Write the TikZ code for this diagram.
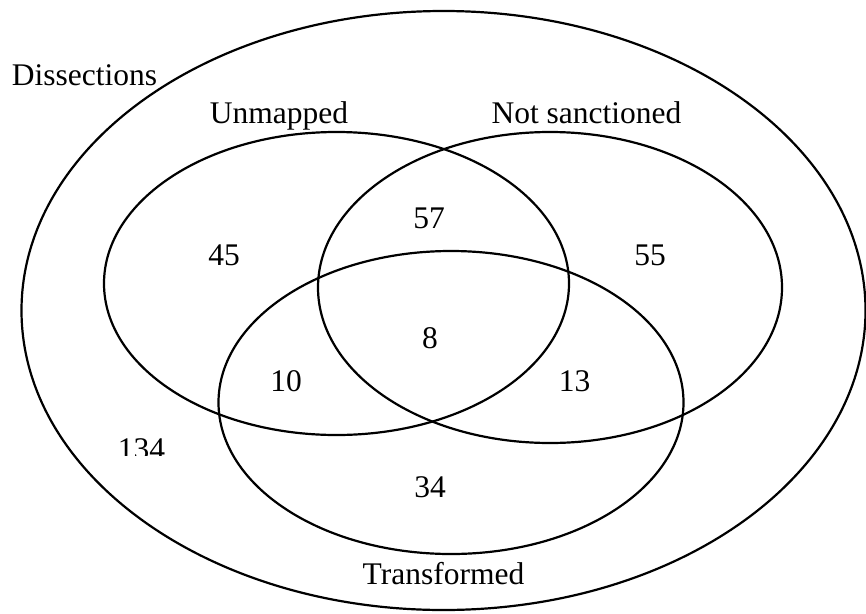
\documentclass[tikz,border=0pt]{standalone}
\usepackage{fontspec}
\setmainfont{Liberation Serif}
\begin{document}
\begin{tikzpicture}[x=1pt,y=-1pt,
  setline/.style={draw=black,line width=2.2pt},
  lbl/.style={anchor=base,inner sep=0pt,font=\fontsize{31.5}{36}\selectfont}]
\useasboundingbox (0,0) rectangle (866,613);
% sets
\draw[setline] (443.5,310.5) ellipse [x radius=422,y radius=299.5];
\draw[setline] (336.5,283.5) ellipse [x radius=232.5,y radius=151.5];
\draw[setline] (550,287.5) ellipse [x radius=232,y radius=155.5];
\draw[setline] (451,402.5) ellipse [x radius=232.5,y radius=151.5];
% labels
\node[lbl] (diss) at (84.5,85) {Dissections};
\node[lbl] (unm) at (279,123.3) {Unmapped};
\node[lbl] (nots) at (586.5,123.3) {Not sanctioned};
\node[lbl] (trans) at (443.5,584) {Transformed};
% counts
\node[lbl] (n45) at (224,265) {45};
\node[lbl] (n57) at (429,228) {57};
\node[lbl] (n55) at (650,265) {55};
\node[lbl] (n8) at (430,348) {8};
\node[lbl] (n10) at (286,391) {10};
\node[lbl] (n13) at (574.5,391) {13};
\begin{scope}
\clip (100,425) rectangle (185,455);
\node[lbl] (n134) at (141.5,459) {134};
\end{scope}
\node[lbl] (n34) at (430,497) {34};
\end{tikzpicture}
\end{document}
